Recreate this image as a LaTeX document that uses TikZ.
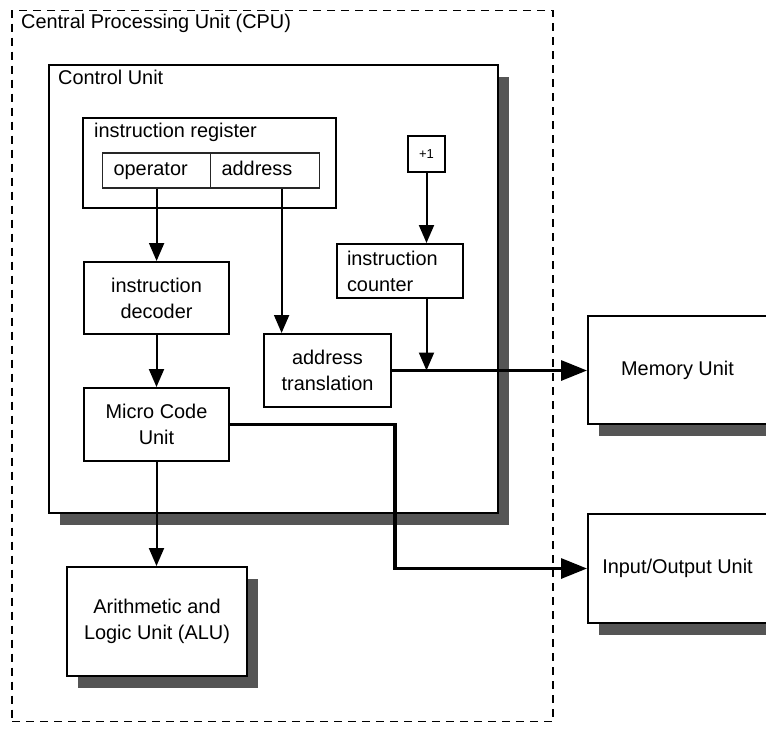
\documentclass[tikz,border=0pt]{standalone}
\usepackage{fontspec}
\setmainfont{Liberation Sans}
\usetikzlibrary{arrows.meta,shadows,calc}
\definecolor{shadowgray}{HTML}{555555}
\begin{document}
\begin{tikzpicture}[x=1pt,y=-1pt,
  font=\fontsize{19.9pt}{26pt}\selectfont,
  box/.style={draw=black, line width=2pt, fill=white, inner sep=0pt, align=center},
  shbox/.style={box, drop shadow={shadow xshift=11pt, shadow yshift=-12pt, fill=shadowgray, opacity=1}},
  cpubox/.style={draw=black, line width=1.7pt, dash pattern=on 8pt off 6pt, inner sep=0pt},
  lbl/.style={inner sep=0pt, anchor=west},
  fieldbox/.style={draw=black!85, line width=1.2pt, fill=white, inner xsep=11pt, inner ysep=0pt, anchor=west, align=left, text height=14pt, text depth=4pt},
  thinarrow/.style={line width=2pt, -{Triangle[length=18pt,width=15pt]}},
  thickarrow/.style={line width=3.2pt, -{Triangle[length=26pt,width=20pt]}}
]
\useasboundingbox (0,0) rectangle (766,731);
\clip (0,0) rectangle (766,731);

% CPU dashed frame
\node[cpubox, minimum width=541pt, minimum height=711pt] (cpu) at (282.5,366) {};
\node[lbl] (cpulbl) at (21,23) {Central Processing Unit (CPU)};

% Control unit
\node[shbox, minimum width=449pt, minimum height=448pt] (cu) at (273.5,289) {};
\node[lbl] (culbl) at (58,77) {Control Unit};

% instruction register
\node[box, minimum width=253pt, minimum height=90pt] (ir) at (209.5,163) {};
\node[lbl] (irlbl) at (94,132) {instruction register};
\node[fieldbox, text width=86pt, minimum height=35pt] (op) at (102,170.5) {operator};
\node[fieldbox, text width=87pt, minimum height=35pt] (addr) at (210,170.5) {address};

% +1 and counter
\node[box, minimum width=37pt, minimum height=36pt, font=\fontsize{13pt}{15pt}\selectfont] (plus) at (426.5,154) {+1};
\node[box, minimum width=126pt, minimum height=54pt, inner xsep=10pt, text width=106pt, align=left] (ctr) at (400,271) {instruction\\counter};

% decoder, translation, micro code
\node[box, minimum width=145pt, minimum height=72pt] (dec) at (156.5,298) {instruction\\decoder};
\node[box, minimum width=127pt, minimum height=73pt] (tr) at (327.5,370.5) {address\\translation};
\node[box, minimum width=145pt, minimum height=73pt] (mcu) at (156.5,424.5) {Micro Code\\Unit};

% ALU, memory, I/O
\node[shbox, minimum width=180pt, minimum height=109pt] (alu) at (157,621.5) {Arithmetic and\\Logic Unit (ALU)};
\node[shbox, minimum width=179pt, minimum height=108pt] (mem) at (677.5,370) {Memory Unit};
\node[shbox, minimum width=179pt, minimum height=109pt] (io) at (677.5,568.5) {Input/Output Unit};

% connectors
\draw[thinarrow] (op.south) -- (op.south |- dec.north);
\draw[thinarrow] (dec.south) -- (mcu.north);
\draw[thinarrow] (mcu.south) -- (mcu.south |- alu.north);
\draw[thinarrow] ([xshift=16.5pt]addr.south) -- ([xshift=16.5pt]addr.south |- tr.north);
\draw[thinarrow] (plus.south) -- (plus.south |- ctr.north);
\draw[thickarrow] (tr.east) -- (tr.east -| mem.west);
\draw[thinarrow] (plus.south |- ctr.south) -- (plus.south |- tr.east);
\draw[thickarrow] (mcu.east) -- ++(165,0) |- (io.west);
\end{tikzpicture}
\end{document}
